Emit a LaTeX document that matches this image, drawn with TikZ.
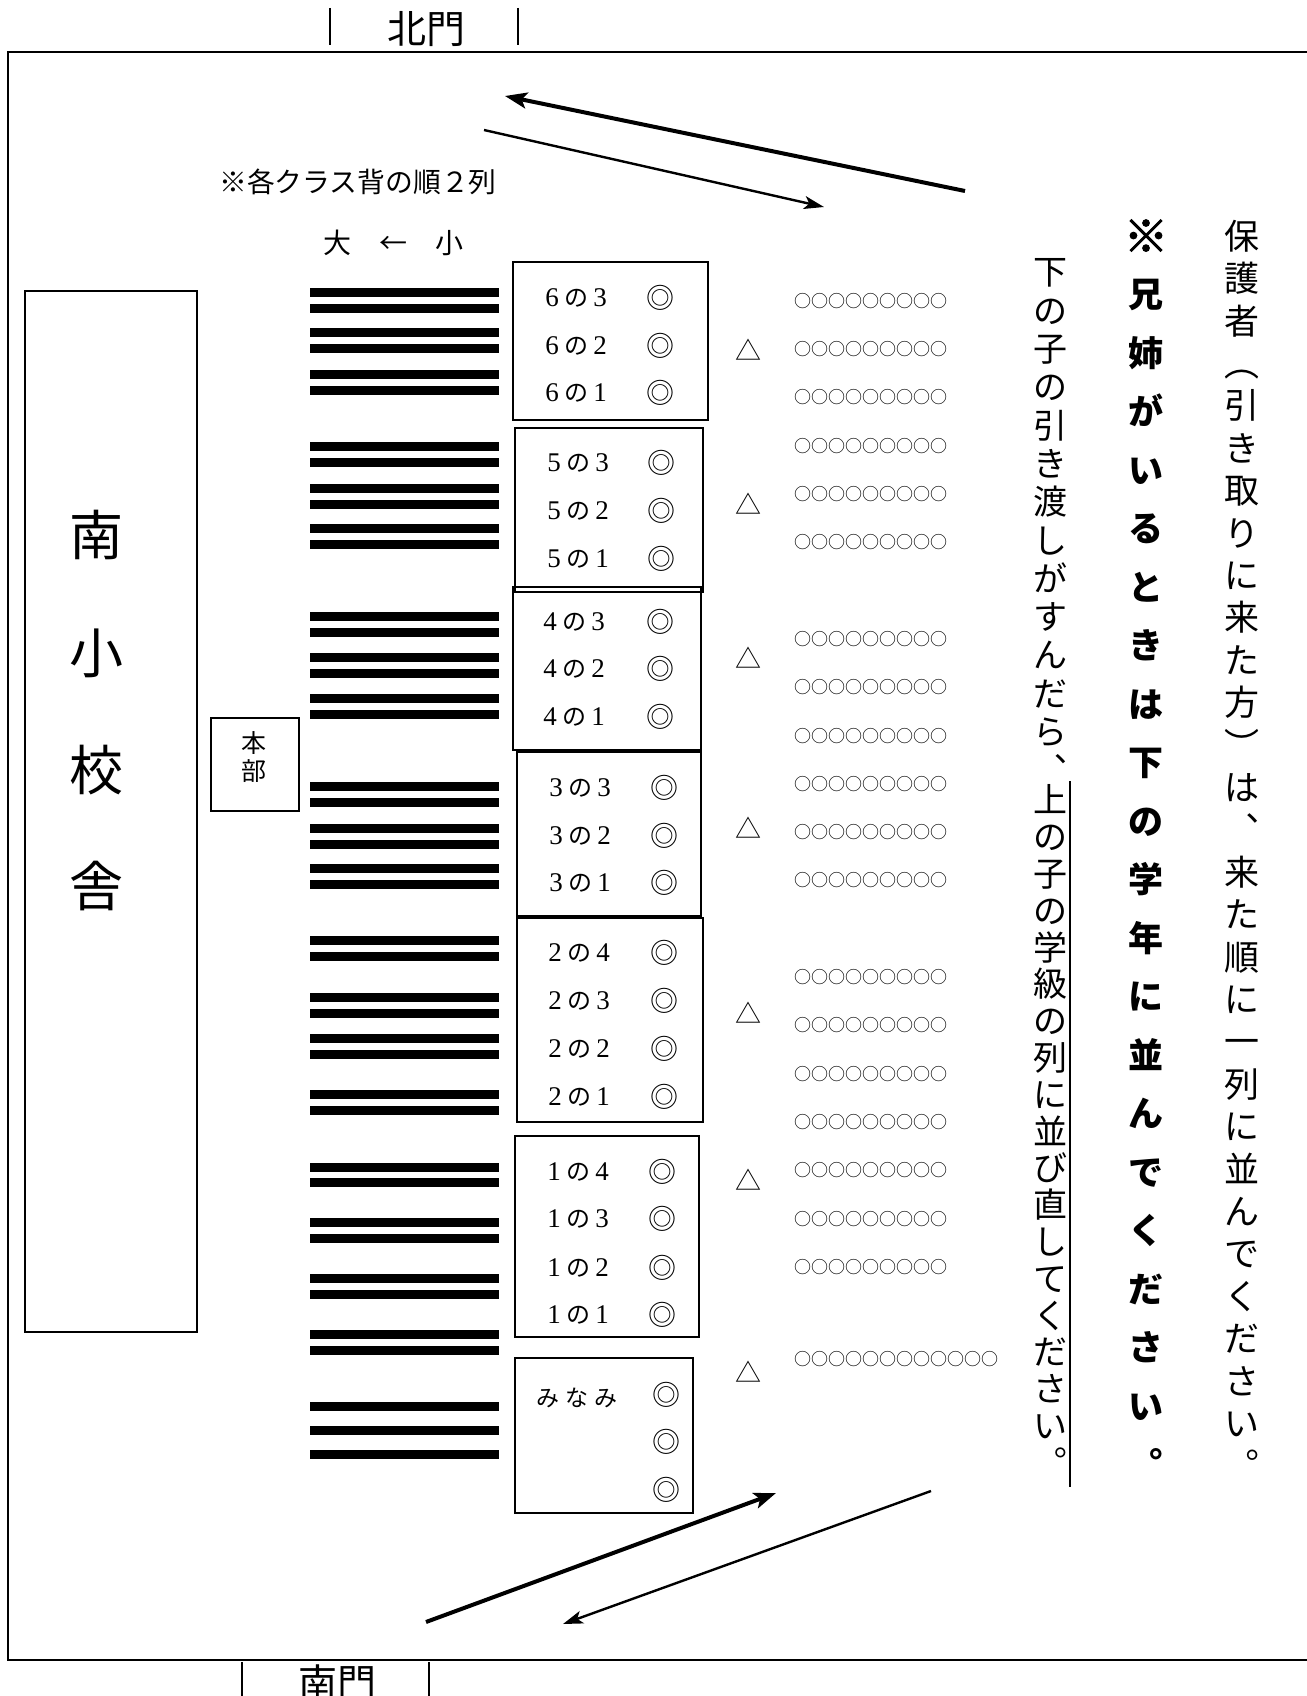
\documentclass[tikz,border=0pt]{standalone}
\usepackage{fontspec}
\setmainfont{Liberation Serif}
\newfontfamily\jp{Noto Sans CJK JP}
\newfontfamily\jpfb{Noto Sans CJK JP}[FakeBold=2.5]
\usetikzlibrary{arrows.meta}
\newcommand\fsz[1]{\fontsize{#1}{#1}\selectfont}
\newcommand\cls[2]{\makebox[1em]{\rmfamily\fontsize{27}{27}\selectfont #1}の\makebox[1em]{\rmfamily\fontsize{27}{27}\selectfont #2}}
\begin{document}
\begin{tikzpicture}[x=1pt,y=-1pt,
  frame/.style={line width=2.6pt},
  gate/.style={line width=2.4pt},
  bar/.style={fill=black},
  bldg/.style={draw,line width=2.4pt},
  clsbox/.style={draw,line width=2pt},
  gatetxt/.style={font=\jp\fsz{39},inner sep=0pt},
  note/.style={font=\jp\fsz{27.8},inner sep=0pt},
  lbl/.style={font=\jp\fsz{24},inner sep=0pt},
  dmark/.style={font=\jp\fsz{28},inner sep=0pt},
  tri/.style={font=\jp\fsz{26},inner sep=0pt},
  dots/.style={font=\jp\fsz{17},inner sep=0pt,anchor=west},
  vca/.style={font=\jp\fsz{35},inner sep=0pt,anchor=base},
  vcb/.style={font=\jp\bfseries\fsz{35},inner sep=0pt,anchor=base},
  vcc/.style={font=\jp\fsz{34},inner sep=0pt,anchor=base},
  bigarrow/.style={line width=4pt,-{Stealth[length=22pt,width=16pt,inset=5pt]}},
  smallarrow/.style={line width=2.4pt,-{Stealth[length=20pt,width=13pt,inset=5pt]}},
]
\useasboundingbox (0,0) rectangle (1306,1696);
% outer frame
\draw[frame] (8,52) rectangle (1340,1660);
% gates
\draw[gate] (330,8) -- (330,45);
\draw[gate] (518,8) -- (518,45);
\node[gatetxt] (north) at (426,29) {北門};
\draw[gate] (242,1662) -- (242,1700);
\draw[gate] (429,1662) -- (429,1700);
\node[gatetxt] (south) at (337,1683) {南門};
% arrows
\coordinate (ta1) at (965,191); \coordinate (ta2) at (505,96);
\draw[bigarrow] (ta1) -- (ta2);
\coordinate (tb1) at (484,130); \coordinate (tb2) at (824,207);
\draw[smallarrow] (tb1) -- (tb2);
\coordinate (ba1) at (426,1622); \coordinate (ba2) at (776,1493);
\draw[bigarrow] (ba1) -- (ba2);
\coordinate (bb1) at (931,1491); \coordinate (bb2) at (563,1624);
\draw[smallarrow] (bb1) -- (bb2);
% notes
\node[note] (n1) at (358,182) {※各クラス背の順２列};
\node[note,font=\jp\fsz{28}] (n2) at (393,243) {大　←　小};
% building
\draw[bldg] (25,291) rectangle (197,1332);
\foreach \ch/\yy [count=\i] in {南/535,小/653,校/770,舎/886}
  \node[font=\jp\fsz{54},inner sep=0pt] (b\i) at (96,\yy) {\ch};
% honbu
\draw[clsbox,line width=1.6pt] (211,718) rectangle (299,811);
\node[align=center,font=\jp\fontsize{25}{28}\selectfont,inner sep=0pt] (hq) at (254,757) {本\\部};
% bars
\foreach \t in {288,304,328,344,370,386,
                442,458,484,500,524,540,
                612,628,653,669,694,710,
                782,798,824,840,864,880,
                936,952,993,1009,1034,1050,1090,1106,
                1163,1178,1218,1234,1274,1290,1330,1346,
                1402,1426,1450}
  \fill[bar] (310,\t) rectangle (499,\t+9);
% class boxes
\draw[clsbox,line width=2.5pt] (513,262) rectangle (708,420);
\draw[clsbox] (515,428) rectangle (703,592);
\draw[clsbox] (513,587) rectangle (701,750);
\draw[clsbox] (517,752) rectangle (701,916);
\draw[clsbox] (517,918) rectangle (703,1122);
\draw[clsbox] (515,1136) rectangle (699,1337);
\draw[clsbox] (515,1358) rectangle (693,1513);
% class labels
\foreach \g/\c/\yy/\tx/\dx in {6/3/298/576/660,6/2/346/576/660,6/1/393/576/660,
  5/3/463/578/661,5/2/511/578/661,5/1/559/578/661,
  4/3/622/574/660,4/2/669/574/660,4/1/717/574/660,
  3/3/788/580/664,3/2/836/580/664,3/1/883/580/664,
  2/4/953/579/664,2/3/1001/579/664,2/2/1049/579/664,2/1/1097/579/664,
  1/4/1172/578/662,1/3/1219/578/662,1/2/1268/578/662,1/1/1315/578/662}
{
  \node[lbl] (c\g-\c) at (\tx,\yy) {\cls{\g}{\c}};
  \node[dmark] (d\g-\c) at (\dx,\yy) {◎};
}
\node[lbl,font=\jp\fsz{23}] (mn) at (577,1398) {み\hspace{6pt}な\hspace{6pt}み};
\node[dmark] (dm1) at (666,1395) {◎};
\node[dmark] (dm2) at (666,1442) {◎};
\node[dmark] (dm3) at (666,1490) {◎};
% triangles
\foreach \yy [count=\i] in {350,504,658,828,1013,1180,1372}
  \node[tri] (t\i) at (748,\yy) {△};
% parent rows
\foreach \yy [count=\i] in {301,349,397,446,494,542,639,687,736,784,832,880,977,1025,1074,1122,1170,1219,1267}
  \node[dots] (r\i) at (794,\yy) {○○○○○○○○○};
\node[dots] (r20) at (794,1359) {○○○○○○○○○○○○};
% vertical column 1
\foreach \ch [count=\i from 0] in {保,護,者,︵,引,き,取,り,に,来,た,方,︶,は,︑,来,た,順,に,一,列,に,並,ん,で,く,だ,さ,い,︒}
  \node[vca] (pa\i) at (1242,236+42.4*\i+13.3) {\ch};
% vertical column 2 (bold)
\node[font=\jpfb\fsz{44},inner sep=0pt] (pb0) at (1146,236) {※};
\foreach \ch [count=\i from 1] in {兄,姉,が,い,る,と,き,は,下,の,学,年,に,並,ん,で,く,だ,さ,い,︒}
  \node[vcb] (pb\i) at (1146,236+58.5*\i+13.3) {\ch};
% vertical column 3
\foreach \ch [count=\i from 0] in {下,の,子,の,引,き,渡,し,が,す,ん,だ,ら,︑}
  \node[vcc] (pc\i) at (1050,272+38.3*\i+12.9) {\ch};
\foreach \ch [count=\i from 0] in {上,の,子,の,学,級,の,列,に,並,び,直,し,て,く,だ,さ,い,︒}
  \node[vcc] (pd\i) at (1050,800+36.8*\i+12.9) {\ch};
\coordinate (sl1) at (1070,781); \coordinate (sl2) at (1070,1487);
\draw[line width=2pt] (sl1) -- (sl2);
\end{tikzpicture}
\end{document}
